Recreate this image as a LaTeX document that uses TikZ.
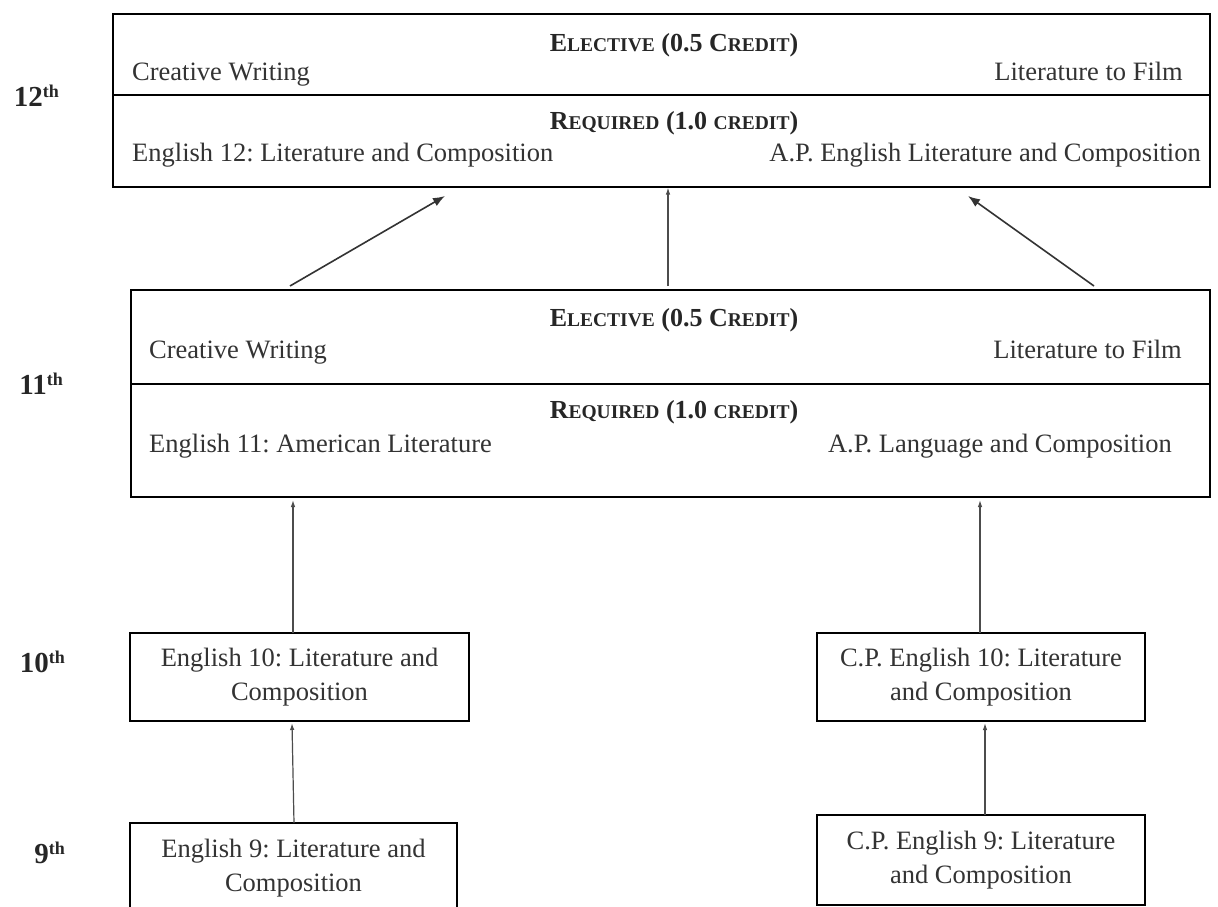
\documentclass[tikz,border=0pt]{standalone}
\usepackage{fontspec}
\setmainfont{Liberation Serif}
\usetikzlibrary{arrows.meta}
\frenchspacing
\newcommand\hsc[1]{{\fontsize{19.5}{20}\selectfont #1}}
\newcommand\grade[2]{{\bfseries\fontsize{29}{30}\selectfont #1\raisebox{9pt}{\fontsize{18}{18}\selectfont #2}}}
\begin{document}
\begin{tikzpicture}[x=1pt,y=-1pt,
  box/.style={draw=black, line width=1.6pt, inner sep=0pt, outer sep=0pt},
  pbox/.style={box, align=center, text=black!80, font=\fontsize{26.5}{33.5}\selectfont},
  txt/.style={inner sep=0pt, font=\fontsize{26.5}{31}\selectfont, text=black!80},
  head/.style={inner sep=0pt, anchor=base, font=\bfseries\fontsize{26}{28}\selectfont, text=black!85},
  lbl/.style={inner sep=0pt, anchor=base east, text=black!85},
  arr/.style={line width=1.6pt, draw=black!80, -{Latex[length=12pt,width=9pt]}},
  varr/.style={line width=1.2pt, draw=black!70, -{Latex[length=7pt,width=4.5pt]}}]
\useasboundingbox (0,0) rectangle (1218,907);
\clip (0,0) rectangle (1218,907);
\fill[white] (0,0) rectangle (1218,907);

% grade labels
\node[lbl] (g12) at (59,106.7) {\grade{12}{th}};
\node[lbl] (g11) at (63,394) {\grade{11}{th}};
\node[lbl] (g10) at (65,672) {\grade{10}{th}};
\node[lbl] (g9) at (65,863) {\grade{9}{th}};

% 12th grade
\node[box, minimum width=1097pt, minimum height=81pt] (e12) at (661.5,54.5) {};
\node[box, minimum width=1097pt, minimum height=92pt] (r12) at (661.5,141) {};
\node[head] (e12h) at (674,51.5) {E\hsc{LECTIVE} (0.5 C\hsc{REDIT})};
\node[txt, anchor=base west] (e12a) at (132,80.5) {Creative Writing};
\node[txt, anchor=base east] (e12b) at (1183,80.5) {Literature to Film};
\node[head] (r12h) at (674,129) {R\hsc{EQUIRED} (1.0 \hsc{CREDIT})};
\node[txt, anchor=base west] (r12a) at (132,161.5) {English 12: Literature and Composition};
\node[txt, anchor=base east] (r12b) at (1201,161.5) {A.P. English Literature and Composition};

% 11th grade
\node[box, minimum width=1079pt, minimum height=94pt] (e11) at (670.5,337) {};
\node[box, minimum width=1079pt, minimum height=113pt] (r11) at (670.5,440.5) {};
\node[head] (e11h) at (674,326) {E\hsc{LECTIVE} (0.5 C\hsc{REDIT})};
\node[txt, anchor=base west] (e11a) at (149,358) {Creative Writing};
\node[txt, anchor=base east] (e11b) at (1182,358) {Literature to Film};
\node[head] (r11h) at (674,418) {R\hsc{EQUIRED} (1.0 \hsc{CREDIT})};
\node[txt, anchor=base west] (r11a) at (149,452) {English 11: American Literature};
\node[txt, anchor=base east] (r11b) at (1172,452) {A.P. Language and Composition};

% 10th grade
\node[pbox, minimum width=339pt, minimum height=88pt] (b10l) at (299.5,677) {English 10: Literature and\\Composition};
\node[pbox, minimum width=328pt, minimum height=88pt] (b10r) at (981,677) {C.P. English 10: Literature\\and Composition};

% 9th grade
\node[pbox, minimum width=327pt, minimum height=90pt] (b9l) at (293.5,868) {English 9: Literature and\\Composition};
\node[pbox, minimum width=328pt, minimum height=90pt] (b9r) at (981,860) {C.P. English 9: Literature\\and Composition};

% connectors
\draw[arr] ([shift={(-380.5,-4)}]e11.north) -- ([shift={(-216.5,9)}]r12.south);
\draw[varr] ([shift={(-2.5,-4)}]e11.north) -- ([shift={(6.5,0.5)}]r12.south);
\draw[arr] ([shift={(423.5,-4)}]e11.north) -- ([shift={(306.5,9)}]r12.south);
\draw[varr] ([shift={(-6.5,0)}]b10l.north) -- ([shift={(-377.5,3)}]r11.south);
\draw[varr] ([shift={(-1,0)}]b10r.north) -- ([shift={(309.5,3)}]r11.south);
\draw[varr] ([shift={(0.5,0)}]b9l.north) -- ([shift={(-7.5,2)}]b10l.south);
\draw[varr] ([shift={(4,0)}]b9r.north) -- ([shift={(4,2)}]b10r.south);
\end{tikzpicture}
\end{document}
